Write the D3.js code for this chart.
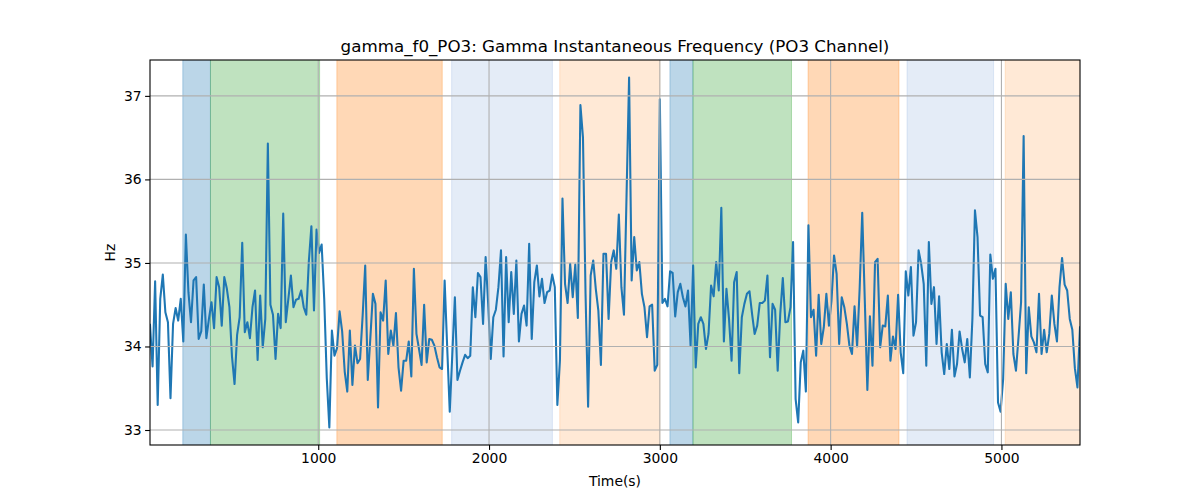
<!DOCTYPE html>
<html><head><meta charset="utf-8">
<script src="https://cdn.jsdelivr.net/npm/d3@7"></script>
<style>body{margin:0;background:#fff} text{font-family:"DejaVu Sans",sans-serif;fill:#000}</style>
</head><body><svg id="chart" width="1200" height="500"></svg>
<script>
// ---- data ----
const timeStart = 15;   // seconds, first sample
const timeStep = 15;    // seconds between samples
const values = [
34.26,33.76,34.78,33.30,34.57,34.86,34.41,34.29,33.38,34.27,
34.46,34.31,34.57,34.06,35.34,34.65,34.29,34.79,34.83,34.09,
34.18,34.74,34.10,34.33,34.53,34.22,34.83,34.71,34.25,34.83,
34.69,34.47,33.88,33.55,34.14,34.35,35.24,34.17,34.29,34.10,
34.47,34.67,33.84,34.61,33.99,34.33,36.43,34.50,34.38,33.85,
34.39,34.22,35.59,34.29,34.57,34.85,34.47,34.56,34.57,34.67,
34.47,
34.38,35.02,35.44,34.43,35.40,35.12,35.22,34.57,33.62,33.03,
34.19,33.89,33.98,34.42,34.18,33.70,33.46,34.19,33.54,34.01,
33.80,33.85,34.37,34.97,33.60,34.10,34.63,34.51,33.27,
34.41,34.31,34.79,33.91,34.19,34.01,34.40,33.75,33.47,33.83,
33.83,34.06,33.64,34.93,34.15,33.97,33.78,34.50,33.81,34.09,
34.08,34.01,33.87,33.75,33.73,34.79,33.99,33.22,33.91,34.59,
33.60,33.71,33.81,33.90,33.86,33.89,34.71,34.35,34.88,34.83,
34.27,35.07,34.51,33.85,34.35,34.44,34.71,35.15,33.88,35.07,
34.29,34.89,34.39,35.03,34.06,34.39,34.49,34.25,35.23,34.09,
34.77,34.97,34.60,34.81,34.52,34.65,34.67,34.86,34.71,33.30,
33.83,35.77,34.75,34.52,34.99,34.59,34.98,34.34,36.89,36.50,
34.63,33.28,34.85,35.03,34.69,34.43,33.78,35.11,35.11,34.33,
35.01,35.15,34.93,35.58,
34.71,34.38,35.80,37.22,34.79,35.31,34.91,35.01,34.63,34.47,
34.11,34.48,34.50,33.71,33.78,36.96,34.52,34.57,34.48,34.90,
34.88,34.36,34.65,34.75,34.59,34.48,34.67,34.01,34.97,33.75,
34.27,34.35,34.27,33.97,34.15,34.73,34.60,35.01,34.67,35.66,
34.06,34.69,34.33,33.83,34.77,34.89,33.68,34.35,34.51,34.63,
34.66,34.39,34.15,34.25,34.52,34.52,34.55,34.85,33.87,34.51,
34.44,33.71,34.39,34.82,34.29,34.30,34.47,35.25,33.37,33.09,
33.81,33.95,33.46,35.45,34.35,34.44,33.89,34.62,34.03,34.23,
34.63,34.25,34.55,35.09,34.87,34.03,34.59,34.47,34.27,34.01,
33.91,34.48,34.00,34.70,35.60,34.55,33.48,34.36,33.77,35.01,
35.05,33.99,34.25,34.24,34.61,33.83,34.12,33.97,34.62,33.93,
33.68,34.90,34.61,34.95,34.13,34.29,35.15,34.99,34.75,33.77,
35.25,34.51,34.71,34.03,34.60,33.93,33.67,34.03,33.73,34.20,
33.64,33.79,34.18,33.97,33.81,34.09,33.63,34.33,35.63,35.31,
34.37,34.35,33.79,33.69,35.10,34.81,34.93,33.33,33.22,33.61,
34.75,34.33,34.65,33.91,33.71,34.11,34.53,36.52,33.68,34.47,
34.12,34.05,33.93,34.63,33.91,34.20,33.93,34.15,34.61,34.27,
34.06,34.71,35.06,34.74,34.67,34.33,34.20,33.74,33.51,34.23
];
const regionStarts = [207, 369, 1109, 1781, 2414, 3059, 3194, 3868, 4447, 5022];
const regionEnds   = [369, 1008, 1726, 2371, 3000, 3194, 3771, 4400, 4954, 5480];
const regionKinds  = ["A","B","C","D","E","A","B","C","D","E"];
const xTicks = [1000, 2000, 3000, 4000, 5000];
const yTicks = [33, 34, 35, 36, 37];
const titleText = "gamma_f0_PO3: Gamma Instantaneous Frequency (PO3 Channel)";
const xLabel = "Time(s)";
const yLabel = "Hz";

// ---- layout ----
const W = 1200, H = 500;
const m = {left:150, right:1080, top:60, bottom:445};
const times = values.map((v,i) => timeStart + i*timeStep);
const data = times.map((t,i) => ({t, v: values[i]}));

const x = d3.scaleLinear().domain(d3.extent(times)).range([m.left, m.right]);
const [ymin, ymax] = d3.extent(values);
const pad = (ymax - ymin) * 0.05;
const y = d3.scaleLinear().domain([ymin - pad, ymax + pad]).range([m.bottom, m.top]);

const kindFill = d3.scaleOrdinal().domain(["A","B","C","D","E"])
  .range(["rgba(31,119,180,0.3)","rgba(44,160,44,0.3)","rgba(255,127,14,0.3)","rgba(31,100,190,0.12)","rgba(255,127,14,0.17)"]);

const svg = d3.select("#chart");
svg.append("rect").attr("width",W).attr("height",H).attr("fill","#fff");
svg.append("defs").append("clipPath").attr("id","clip")
  .append("rect").attr("x",m.left).attr("y",m.top).attr("width",m.right-m.left).attr("height",m.bottom-m.top);

const plot = svg.append("g").attr("clip-path","url(#clip)");
plot.selectAll("rect.span").data(regionStarts).join("rect").attr("class","span")
  .attr("x",(d,i)=>x(d)).attr("width",(d,i)=>x(regionEnds[i])-x(d))
  .attr("y",m.top-2).attr("height",m.bottom-m.top+4)
  .attr("fill",(d,i)=>kindFill(regionKinds[i]))
  .attr("stroke",(d,i)=>kindFill(regionKinds[i])).attr("stroke-width",1);

// grid
const grid = svg.append("g");
grid.selectAll("line.gx").data(xTicks).join("line")
  .attr("x1",d=>x(d)).attr("x2",d=>x(d)).attr("y1",m.top).attr("y2",m.bottom)
  .attr("stroke","#b0b0b0").attr("stroke-width",1.1);
grid.selectAll("line.gy").data(yTicks).join("line")
  .attr("y1",d=>y(d)).attr("y2",d=>y(d)).attr("x1",m.left).attr("x2",m.right)
  .attr("stroke","#b0b0b0").attr("stroke-width",1.1);

// line
plot.append("path").datum(data)
  .attr("fill","none").attr("stroke","#1f77b4").attr("stroke-width",2.08)
  .attr("stroke-linejoin","round").attr("stroke-linecap","square")
  .attr("d", d3.line().x(d=>x(d.t)).y(d=>y(d.v)));

// axes
const xAxis = svg.append("g").attr("transform",`translate(0,${m.bottom})`)
  .call(d3.axisBottom(x).tickValues(xTicks).tickSize(4.9).tickPadding(3.5).tickFormat(d3.format("d")));
const yAxis = svg.append("g").attr("transform",`translate(${m.left},0)`)
  .call(d3.axisLeft(y).tickValues(yTicks).tickSize(4.9).tickPadding(3.5).tickFormat(d3.format("d")));
[xAxis,yAxis].forEach(a=>{
  a.select(".domain").remove();
  a.selectAll(".tick line").attr("stroke","#000").attr("stroke-width",1.1);
  a.selectAll(".tick text").attr("font-size","13.9px").attr("font-family","DejaVu Sans").attr("fill","#000");
});

// spines
svg.append("rect").attr("x",m.left).attr("y",m.top).attr("width",m.right-m.left).attr("height",m.bottom-m.top)
  .attr("fill","none").attr("stroke","#000").attr("stroke-width",1.1);

// labels
svg.append("text").attr("x",(m.left+m.right)/2).attr("y",52).attr("text-anchor","middle")
  .attr("font-size","16.7px").text(titleText);
svg.append("text").attr("x",(m.left+m.right)/2).attr("y",486).attr("text-anchor","middle")
  .attr("font-size","13.9px").text(xLabel);
svg.append("text").attr("transform",`translate(115,${(m.top+m.bottom)/2}) rotate(-90)`).attr("text-anchor","middle")
  .attr("font-size","13.9px").text(yLabel);
</script></body></html>
